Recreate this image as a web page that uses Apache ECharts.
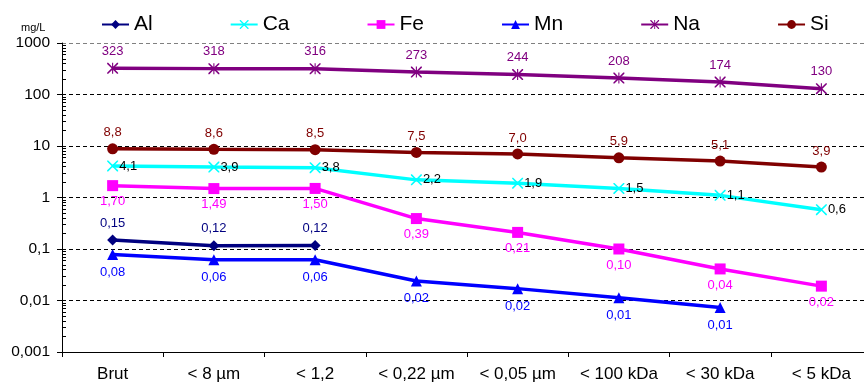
<!DOCTYPE html>
<html>
<head>
<meta charset="utf-8">
<script src="https://cdn.jsdelivr.net/npm/echarts@6/dist/echarts.min.js"></script>
<style>
html,body{margin:0;padding:0;background:#fff;}
#chart{width:864px;height:385px;}
</style>
</head>
<body>
<div id="chart"></div>
<script>
const categories = ['Brut', '< 8 µm', '< 1,2', '< 0,22 µm', '< 0,05 µm', '< 100 kDa', '< 30 kDa', '< 5 kDa'];
const alValues = [0.15, 0.116, 0.117, null, null, null, null, null];
const caValues = [4.1, 3.9, 3.8, 2.2, 1.9, 1.5, 1.1, 0.58];
const feValues = [1.70, 1.49, 1.50, 0.39, 0.21, 0.10, 0.041, 0.019];
const mnValues = [0.078, 0.062, 0.062, 0.024, 0.017, 0.0113, 0.0073, null];
const naValues = [323, 318, 316, 273, 244, 208, 174, 130];
const siValues = [8.8, 8.6, 8.5, 7.5, 7.0, 5.9, 5.1, 3.9];
const seriesNames = ['Al', 'Ca', 'Fe', 'Mn', 'Na', 'Si'];
const yTickLabels = ['0,001', '0,01', '0,1', '1', '10', '100', '1000'];
const minorTickValues = [];
[0.001, 0.01, 0.1, 1, 10, 100].forEach(function (d) {
  for (let k = 2; k <= 9; k++) minorTickValues.push(d * k);
});

const FONT = '"Liberation Sans", Arial, sans-serif';
const X_PATH = 'path://M0,0 L2,0 L10,8 L18,0 L20,0 L20,2 L12,10 L20,18 L20,20 L18,20 L10,12 L2,20 L0,20 L0,18 L8,10 L0,2 Z';
const STAR_PATH = 'path://M0,0 L2,0 L9,7 L9,0 L11,0 L11,7 L18,0 L20,0 L20,2 L12,10 L20,18 L20,20 L18,20 L11,13 L11,20 L9,20 L9,13 L2,20 L0,20 L0,18 L8,10 L0,2 Z';

function fmt(d) {
  return function (p) {
    if (p.value == null) return '';
    return Number(p.value).toFixed(d).replace('.', ',');
  };
}

function makeSeries(name, data, color, symbol, size, labelPos, labelColor, decimals, dist) {
  return {
    name: name,
    type: 'line',
    data: data,
    symbol: symbol,
    symbolSize: size,
    connectNulls: false,
    lineStyle: { color: color, width: 3.5 },
    itemStyle: { color: color },
    emphasis: { disabled: true },
    label: {
      show: true,
      position: labelPos,
      distance: dist,
      color: labelColor,
      fontSize: 13,
      fontFamily: FONT,
      formatter: fmt(decimals)
    },
    z: 3
  };
}

const chart = echarts.init(document.getElementById('chart'), null, { renderer: 'canvas' });
chart.setOption({
  animation: false,
  backgroundColor: '#fff',
  textStyle: { fontFamily: FONT },
  title: {
    text: 'mg/L',
    left: 21,
    top: 22,
    padding: 0,
    textStyle: { fontSize: 11, fontWeight: 'normal', color: '#000', fontFamily: FONT }
  },
  legend: {
    data: seriesNames,
    left: 101,
    top: 14,
    itemWidth: 27,
    itemHeight: 11,
    itemGap: 77,
    padding: 0,
    textStyle: { fontSize: 21, color: '#000', fontFamily: FONT },
    selectedMode: false
  },
  grid: {
    left: 62,
    right: -8,
    top: 43,
    bottom: 33,
    containLabel: false,
    outerBoundsMode: 'none'
  },
  xAxis: {
    type: 'category',
    data: categories,
    boundaryGap: true,
    axisLine: { show: true, lineStyle: { color: '#000', width: 1 } },
    axisTick: { show: true, length: 5, alignWithLabel: false, lineStyle: { color: '#000' } },
    axisLabel: { fontSize: 17, color: '#000', margin: 14, fontFamily: FONT, interval: 0 },
    splitLine: { show: false }
  },
  yAxis: {
    type: 'log',
    logBase: 10,
    min: 0.001,
    max: 1000,
    axisLine: { show: true, lineStyle: { color: '#000', width: 1 } },
    axisTick: { show: true, length: 5, lineStyle: { color: '#000' } },
    axisLabel: {
      fontSize: 15.5,
      color: '#000',
      margin: 12,
      fontFamily: FONT,
      formatter: function (v) {
        const e = Math.round(Math.log10(v));
        return yTickLabels[e + 3];
      }
    },
    splitLine: {
      show: true,
      lineStyle: {
        color: ['#000', '#000', '#000', '#000', '#000', '#000', '#808080'],
        type: [4, 3],
        width: 1
      }
    }
  },
  series: [
    makeSeries('Al', alValues, '#000080', 'diamond', 11, 'top', '#000080', 2, 5),
    makeSeries('Ca', caValues, '#00FFFF', X_PATH, 11, 'right', '#000', 1, 1),
    makeSeries('Fe', feValues, '#FF00FF', 'rect', 11, 'bottom', '#FF00FF', 2, 4),
    makeSeries('Mn', mnValues, '#0000FF', 'triangle', 11, 'bottom', '#0000FF', 2, 6),
    makeSeries('Na', naValues, '#800080', STAR_PATH, 11, 'top', '#800080', 0, 5),
    makeSeries('Si', siValues, '#800000', 'circle', 11, 'top', '#800000', 1, 4),
    {
      name: 'minorTicks',
      type: 'custom',
      silent: true,
      data: minorTickValues.map(function (v) { return [0, v]; }),
      renderItem: function (params, api) {
        const p = api.coord([0, api.value(1)]);
        const bw = api.size([1, 0])[0];
        const x = p[0] - bw / 2;
        const y = Math.round(p[1]) + 0.5;
        return {
          type: 'line',
          shape: { x1: x, y1: y, x2: x + 4, y2: y },
          style: { stroke: '#000', lineWidth: 1 }
        };
      },
      z: 4
    }
  ]
});
</script>
</body>
</html>
